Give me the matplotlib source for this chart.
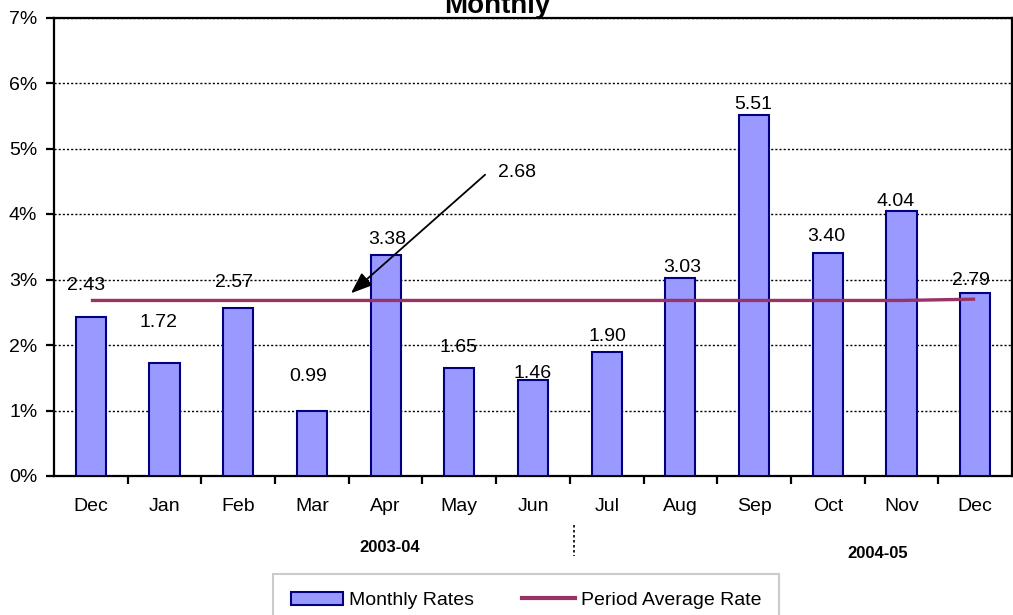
import matplotlib
matplotlib.use("Agg")
import matplotlib.pyplot as plt
from matplotlib.patches import Patch
from matplotlib.lines import Line2D
from matplotlib.ticker import FuncFormatter, FixedLocator
import matplotlib.transforms as mtransforms

plt.rcParams["font.family"] = ["Liberation Sans", "DejaVu Sans"]

months = ["Dec", "Jan", "Feb", "Mar", "Apr", "May", "Jun",
          "Jul", "Aug", "Sep", "Oct", "Nov", "Dec"]
monthly_rates = [2.43, 1.72, 2.57, 0.99, 3.38, 1.65, 1.46,
                 1.90, 3.03, 5.51, 3.40, 4.04, 2.79]
period_avg = [2.68, 2.68, 2.68, 2.68, 2.68, 2.68, 2.68,
              2.68, 2.68, 2.68, 2.68, 2.68, 2.70]
avg_label = "2.68"
periods = ["2003-04", "2004-05"]

# hand-placed label offsets (pixels), like the original sheet
lbl_dx = [-5, -6, -4, -4, 2, -1, 0, 1, 2, -1, -1, -6, -4]
lbl_dy = [31, 41, 25, 35, 15, 20, 7, 15, 10, 11, 17, 10, 13]

W, H = 1013, 615
fig = plt.figure(figsize=(W / 100, H / 100), dpi=100)
ax = fig.add_axes([54 / W, 1 - 476 / H, 958 / W, (476 - 17.5) / H])

x = list(range(len(months)))
ax.bar(x, monthly_rates, width=0.41, color="#9999FF", edgecolor="#000080",
       linewidth=1.5, zorder=3)
ax.plot(x, period_avg, color="#993366", linewidth=2.4, zorder=4,
        solid_capstyle="butt")

for i, v in enumerate(monthly_rates):
    ax.annotate(f"{v:.2f}", (i, v), xytext=(lbl_dx[i], lbl_dy[i]),
                textcoords="offset pixels", ha="center", va="center",
                fontsize=14, zorder=5)

# pointer to the average line
ax.annotate("", xy=(3.53, 2.79), xytext=(5.35, 4.6),
            arrowprops=dict(arrowstyle="-|>,head_length=1.3,head_width=0.5",
                            color="black", lw=1.3, shrinkA=0, shrinkB=0),
            zorder=6)
ax.text(5.52, 4.63, avg_label, ha="left", va="center", fontsize=14, zorder=6)

ax.set_xlim(-0.5, len(months) - 0.5)
ax.set_ylim(0, 7)
ax.yaxis.set_major_locator(FixedLocator(range(0, 8)))
ax.yaxis.set_major_formatter(FuncFormatter(lambda v, p: f"{v:.0f}%"))
ax.grid(axis="y", color="black", linestyle=(0, (1.5, 1.5)), linewidth=1.0,
        zorder=1)
ax.set_axisbelow(True)

ax.set_xticks(x)
ax.set_xticklabels(months)
ax.set_xticks([i + 0.5 for i in range(len(months) - 1)], minor=True)
ax.tick_params(axis="x", which="major", length=0, pad=16, labelsize=14)
ax.tick_params(axis="x", which="minor", length=6, width=1.6, direction="out")
ax.tick_params(axis="y", length=6, width=1.6, direction="out", pad=6,
               labelsize=14)
for s in ax.spines.values():
    s.set_linewidth(1.6)
    s.set_color("black")

# period labels under the month axis
trans = mtransforms.blended_transform_factory(ax.transData, fig.transFigure)
ax.text(4.06, 1 - 547 / H, periods[0], transform=trans, ha="center",
        va="center", fontsize=12, fontweight="bold")
ax.text(10.68, 1 - 554 / H, periods[1], transform=trans, ha="center",
        va="center", fontsize=12, fontweight="bold")
ax.add_line(Line2D([6.55, 6.55], [1 - 525 / H, 1 - 556 / H], transform=trans,
                   color="black", linestyle=(0, (1.5, 1.5)), linewidth=1.2,
                   clip_on=False))

fig.text(497 / W, 1 - 13 / H, "Monthly", ha="center", va="baseline",
         fontsize=20, fontweight="bold")

handles = [Patch(facecolor="#9999FF", edgecolor="#000080", linewidth=1.5),
           Line2D([], [], color="#993366", linewidth=3)]
leg = fig.legend(handles, ["Monthly Rates", "Period Average Rate"],
                 loc="upper left", bbox_to_anchor=(273 / W, 1 - 574 / H),
                 ncol=2, fontsize=14, frameon=True, fancybox=False,
                 handlelength=2.7, handletextpad=0.3, columnspacing=2.5,
                 borderpad=0.9, borderaxespad=0)
leg.get_frame().set_edgecolor("#BFBFBF")
leg.get_frame().set_linewidth(1.5)

fig.savefig("out.png", dpi=100)
